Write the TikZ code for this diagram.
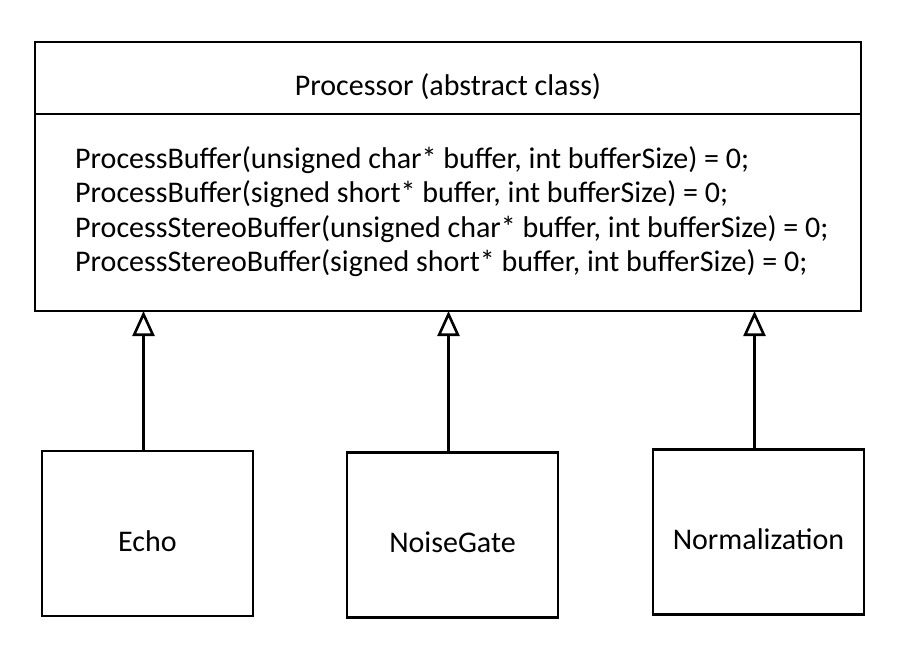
\documentclass[tikz,border=0pt]{standalone}
\usepackage{fontspec}
\setmainfont{Carlito}
\usetikzlibrary{arrows.meta}

\tikzset{
    umlbox/.style={draw, line width=2.6pt, inner sep=0pt, outer sep=0pt, text height=35pt, text depth=0pt},
    subclass/.style={umlbox, minimum width=211pt, minimum height=165pt},
    inherits/.style={line width=2.6pt, -{Triangle[open, length=25pt, width=22pt]}}
}

\begin{document}
\begin{tikzpicture}[x=1pt, y=-1pt, font=\fontsize{30}{34.3}\selectfont]
    \useasboundingbox (0,0) rectangle (899,653);
    % base class
    \node[umlbox, minimum width=826pt, minimum height=72pt] (processor) at (448,78) {Processor (abstract class)};
    \coordinate (classbottom) at (448,311);
    \draw[umlbox] (processor.south west) rectangle (processor.east |- classbottom);
    \node[anchor=west, align=left, inner sep=0pt] (methods) at (75,211.5) {%
        ProcessBuffer(unsigned char* buffer, int bufferSize) = 0;\\
        ProcessBuffer(signed short* buffer, int bufferSize) = 0;\\
        ProcessStereoBuffer(unsigned char* buffer, int bufferSize) = 0;\\
        ProcessStereoBuffer(signed short* buffer, int bufferSize) = 0;};
    % derived classes
    \node[subclass] (echo) at (147.5,533.5) {Echo};
    \node[subclass] (noisegate) at (452.5,535) {NoiseGate};
    \node[subclass] (normalization) at (758.5,532) {Normalization};
    \foreach \child in {echo, noisegate, normalization}
        \draw[inherits] ([xshift=-4pt]\child.north) -- ([xshift=-4pt]\child.north |- classbottom);
\end{tikzpicture}
\end{document}
